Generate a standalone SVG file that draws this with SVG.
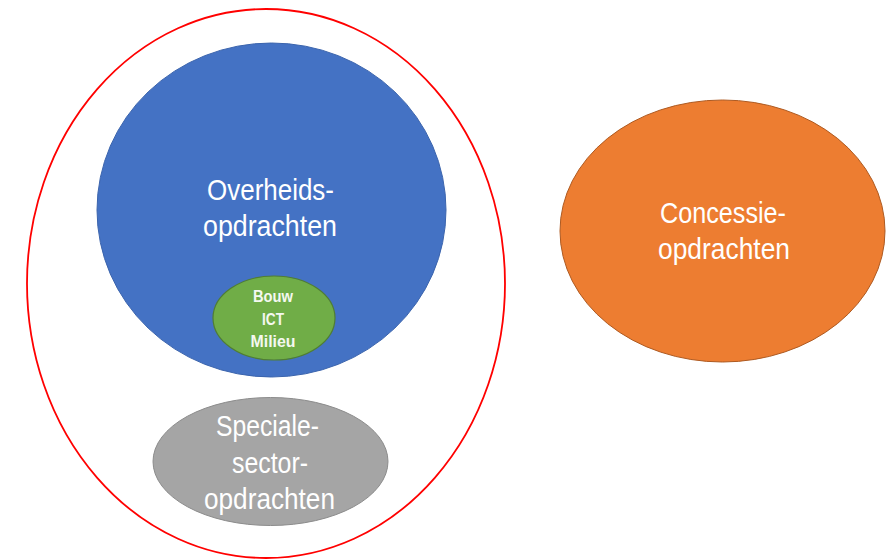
<svg xmlns="http://www.w3.org/2000/svg" width="889" height="560" viewBox="0 0 889 560">
<style>
.lbl{font-family:"Liberation Sans",Arial,sans-serif;font-size:29px;fill:#ffffff;text-anchor:middle}
.sm{font-family:"Liberation Sans",Arial,sans-serif;font-size:16px;font-weight:bold;fill:#f4f8f0;text-anchor:middle}
</style>
<rect width="889" height="560" fill="#ffffff"/>
<g id="klassieke-sectoren">
<ellipse cx="266" cy="283.5" rx="239" ry="274.5" fill="none" stroke="#ff0000" stroke-width="1.8"/>
</g>
<g id="overheidsopdrachten">
<ellipse cx="271.5" cy="210" rx="174.5" ry="167" fill="#4472c4" stroke="#3b64ad" stroke-width="1"/>
<text class="lbl" x="270.5" y="200" textLength="127" lengthAdjust="spacingAndGlyphs">Overheids-</text>
<text class="lbl" x="270" y="236" textLength="134" lengthAdjust="spacingAndGlyphs">opdrachten</text>
</g>
<g id="bouw-ict-milieu">
<ellipse cx="274" cy="318" rx="61" ry="42" fill="#70ad47" stroke="#507e32" stroke-width="1.2"/>
<text class="sm" x="273" y="302" textLength="40" lengthAdjust="spacingAndGlyphs">Bouw</text>
<text class="sm" x="273" y="325" textLength="22" lengthAdjust="spacingAndGlyphs">ICT</text>
<text class="sm" x="273" y="347" textLength="45" lengthAdjust="spacingAndGlyphs">Milieu</text>
</g>
<g id="speciale-sectoren">
<ellipse cx="270.5" cy="461.5" rx="117.5" ry="64" fill="#a5a5a5" stroke="#8c8c8c" stroke-width="1"/>
<text class="lbl" x="267.5" y="436" textLength="103" lengthAdjust="spacingAndGlyphs">Speciale-</text>
<text class="lbl" x="270" y="473" textLength="76" lengthAdjust="spacingAndGlyphs">sector-</text>
<text class="lbl" x="269.5" y="509" textLength="131" lengthAdjust="spacingAndGlyphs">opdrachten</text>
</g>
<g id="concessieopdrachten">
<ellipse cx="722.5" cy="231" rx="162.5" ry="131" fill="#ed7d31" stroke="#ae5a21" stroke-width="1"/>
<text class="lbl" x="723" y="223" textLength="126" lengthAdjust="spacingAndGlyphs">Concessie-</text>
<text class="lbl" x="724" y="259" textLength="132" lengthAdjust="spacingAndGlyphs">opdrachten</text>
</g>
<g id="connectors"/>
</svg>
